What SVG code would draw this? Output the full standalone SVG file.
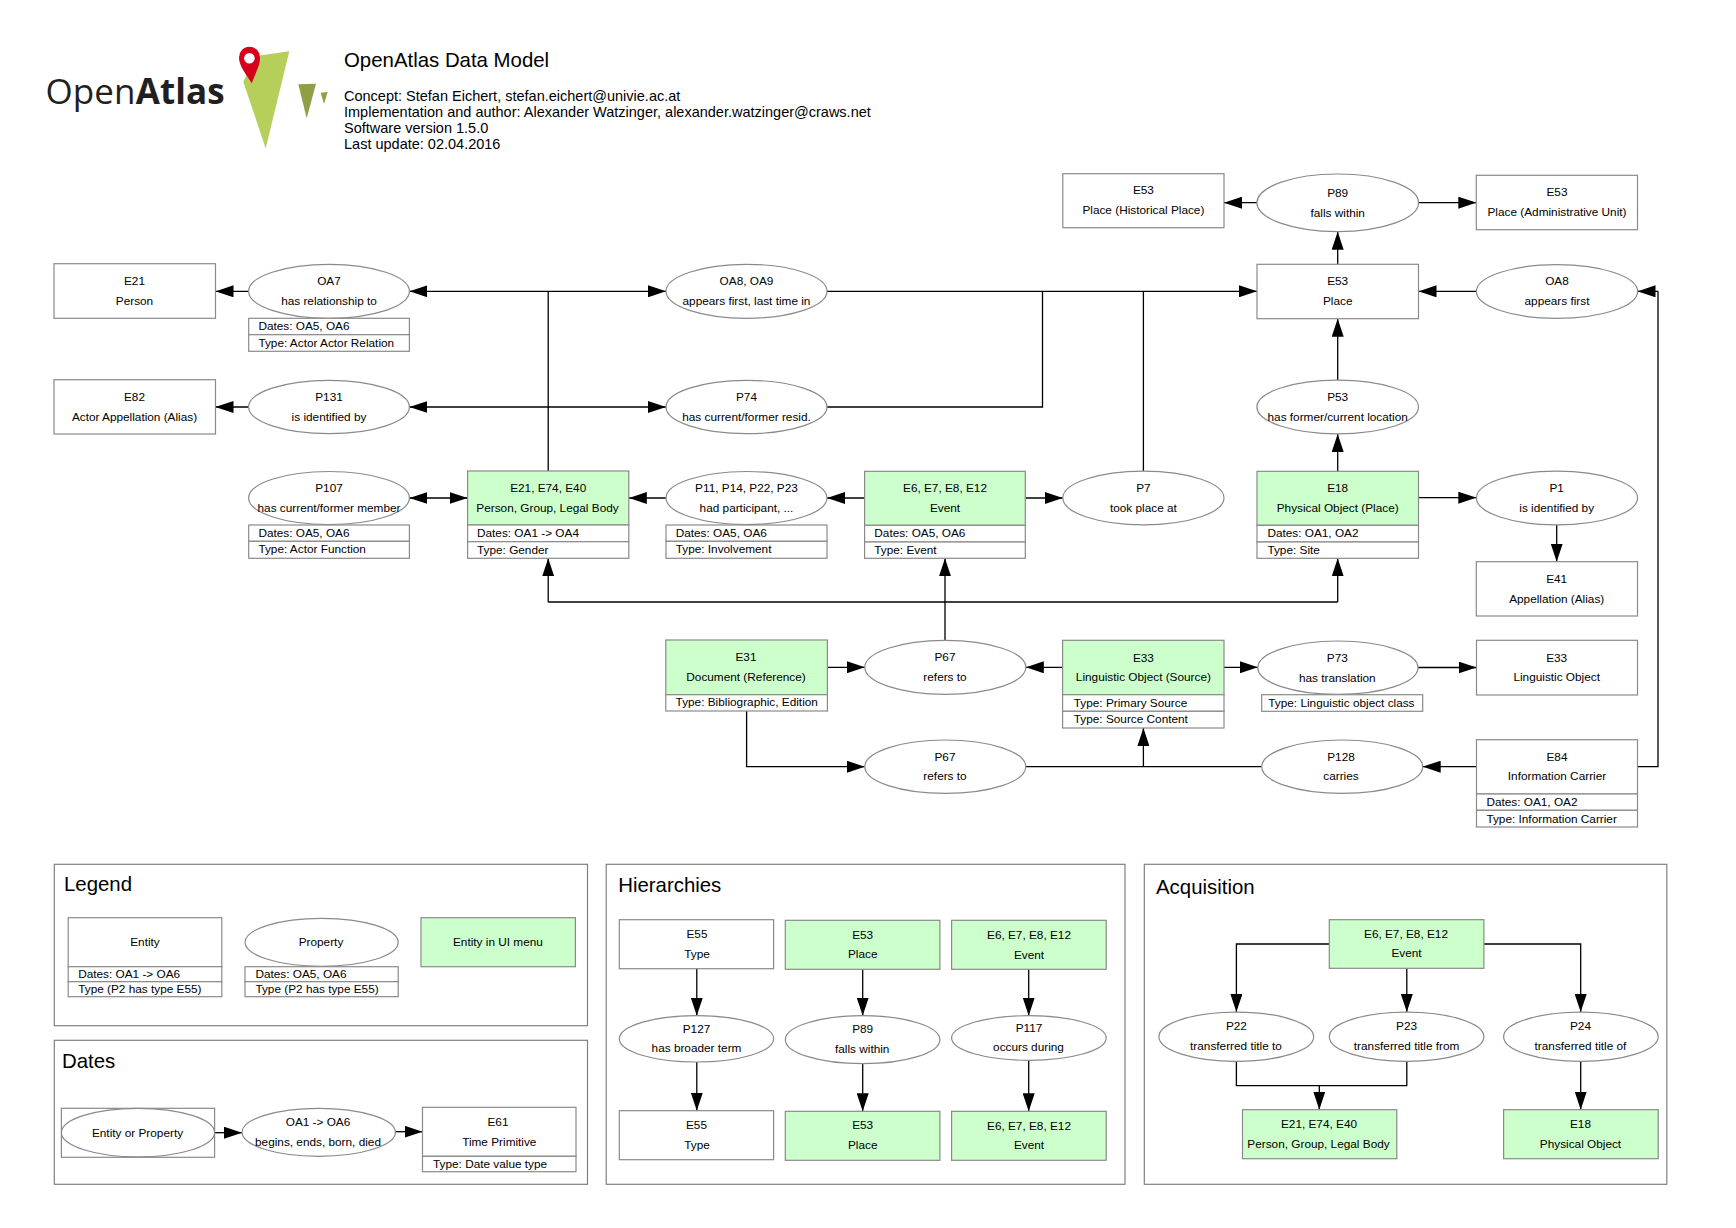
<svg xmlns="http://www.w3.org/2000/svg" width="1736" height="1228" viewBox="0 0 1736 1228">
<style>
text{font-family:"Liberation Sans",Arial,sans-serif;font-size:11.8px;fill:#000}
.m{text-anchor:middle}
.h{font-size:20.4px}
.i{font-size:14.5px}
rect,ellipse{stroke:#8a8a8a;stroke-width:1.2;fill:#fff}
.g{fill:#ccffcc}
.p{fill:none;stroke:#808080}
.c path{fill:none;stroke:#000;stroke-width:1.3;marker-end:url(#a)}
.c path.b{marker-start:url(#a)}
.c path.l{marker-end:none}
</style>
<defs>
<marker id="a" markerUnits="userSpaceOnUse" markerWidth="18" markerHeight="12" refX="18" refY="6" orient="auto-start-reverse"><path d="M0 0L18 6L0 12Z" fill="#000"/></marker>
</defs>
<rect width="1736" height="1228" style="fill:#fff;stroke:none"/>
<g id="logo">
<polygon points="289.3,51.3 256,56 243.3,81.7 265.7,148.5" fill="#b5cf5a"/>
<polygon points="298.3,84.3 316,83.7 306.7,118.3" fill="#8e9f45"/>
<polygon points="320.7,92.7 327.7,92 324,104" fill="#8e9f45"/>
<path d="M251.7 83.3C246 74 239 66 239 57.5A10.5 10.8 0 0 1 260 57.5C260 66 255 74 251.7 83.3Z" fill="#d6001c"/>
<circle cx="249.4" cy="58.2" r="5.3" fill="#fff"/>
<text x="45.5" y="104" style="font-family:'Open Sans',sans-serif;font-size:35px;fill:#231f20;letter-spacing:.1px">Open<tspan font-weight="700">Atlas</tspan></text>
</g>
<g id="title">
<text class="h" x="344" y="66.7">OpenAtlas Data Model</text>
<text class="i" x="344" y="100.5">Concept: Stefan Eichert, stefan.eichert@univie.ac.at</text>
<text class="i" x="344" y="116.5">Implementation and author: Alexander Watzinger, alexander.watzinger@craws.net</text>
<text class="i" x="344" y="132.7">Software version 1.5.0</text>
<text class="i" x="344" y="149">Last update: 02.04.2016</text>
</g>
<g id="panels">
<rect class="p" x="54.3" y="864.3" width="533.2" height="161.4"/>
<text class="h" x="64" y="891">Legend</text>
<rect class="p" x="54.3" y="1040.3" width="533.2" height="144"/>
<text class="h" x="62" y="1068.3">Dates</text>
<rect class="p" x="606.2" y="864.3" width="518.8" height="320"/>
<text class="h" x="618.2" y="891.7">Hierarchies</text>
<rect class="p" x="1144.3" y="864.3" width="522.5" height="320"/>
<text class="h" x="1156" y="893.7">Acquisition</text>
</g>
<g id="connectors" class="c">
<path d="M248.7 291.3H215.5"/>
<path class="b" d="M409.4 291.3H666"/>
<path class="l" d="M548.2 291.3V471"/>
<path d="M827 291.3H1257"/>
<path class="l" d="M827 407H1042.5V291.3"/>
<path class="l" d="M1143.4 471.3V291.3"/>
<path d="M248.7 407H215.5"/>
<path class="b" d="M409.4 407H666"/>
<path class="b" d="M409.4 498H467.6"/>
<path d="M666 498H628.8"/>
<path d="M864.6 498H827"/>
<path d="M1025.3 498H1062.8"/>
<path d="M1418.5 497.7H1476.3"/>
<path d="M1337.7 471.3V434"/>
<path d="M1337.7 380.3V318.7"/>
<path d="M1337.7 264.3V231.7"/>
<path d="M1257 202.7H1224"/>
<path d="M1418.5 202.7H1476.3"/>
<path d="M1476.3 291.3H1418.5"/>
<path d="M1556.7 525V561.7"/>
<path class="l" d="M1637.5 766.7H1658V291.3"/>
<path d="M1658 291.3H1637.5"/>
<path d="M548.2 602V558.3"/>
<path class="l" d="M548.2 602H1337.7"/>
<path d="M1337.7 602V558.3"/>
<path d="M945 640.3V558.3"/>
<path d="M827.4 667.3H864.8"/>
<path d="M1062.6 667.3H1025.8"/>
<path d="M1224 667.3H1257.8"/>
<path d="M1418 667.5H1476.5"/>
<path d="M746.6 711V766.7H864.8"/>
<path class="l" d="M1025.8 766.7H1261.7"/>
<path d="M1143.4 766.7V728"/>
<path d="M1476.5 766.7H1422.7"/>
<path d="M214.6 1132.7H242"/>
<path d="M395.4 1131.7H422.5"/>
<path d="M696.8 968.7V1015.7"/>
<path d="M696.8 1062V1110.7"/>
<path d="M862.7 969.3V1015.7"/>
<path d="M862.7 1063.7V1111.3"/>
<path d="M1028.7 969.3V1015.7"/>
<path d="M1028.7 1060.3V1111.3"/>
<path d="M1329.3 944H1236.4V1012"/>
<path d="M1406.8 968.3V1012"/>
<path d="M1483.9 944H1580.7V1012"/>
<path class="l" d="M1236.4 1061.3V1085.7H1406.8V1061.3"/>
<path d="M1319.3 1085.7V1109.7"/>
<path d="M1580.7 1061.3V1109.7"/>
</g>
<g id="e21"><rect x="54" y="263.7" width="161.5" height="54.6"/><text class="m" x="134.5" y="285">E21</text><text class="m" x="134.5" y="305">Person</text></g>
<g id="oa7"><ellipse cx="329" cy="291.3" rx="80.4" ry="27"/><text class="m" x="329" y="285">OA7</text><text class="m" x="329" y="305">has relationship to</text>
<rect x="248.7" y="318.3" width="160.7" height="16.4"/><rect x="248.7" y="334.7" width="160.7" height="16.6"/><text x="258.4" y="330">Dates: OA5, OA6</text><text x="258.4" y="347">Type: Actor Actor Relation</text></g>
<g id="oa8-9"><ellipse cx="746.5" cy="291.3" rx="80.5" ry="27"/><text class="m" x="746.5" y="285">OA8, OA9</text><text class="m" x="746.5" y="305">appears first, last time in</text></g>
<g id="e82"><rect x="54" y="379.7" width="161.5" height="54.3"/><text class="m" x="134.5" y="401">E82</text><text class="m" x="134.5" y="421">Actor Appellation (Alias)</text></g>
<g id="p131"><ellipse cx="329" cy="407" rx="80.4" ry="26.7"/><text class="m" x="329" y="401">P131</text><text class="m" x="329" y="421">is identified by</text></g>
<g id="p74"><ellipse cx="746.5" cy="407" rx="80.5" ry="26.7"/><text class="m" x="746.5" y="401">P74</text><text class="m" x="746.5" y="421">has current/former resid.</text></g>
<g id="p107"><ellipse cx="329" cy="498" rx="80.4" ry="26.5"/><text class="m" x="329" y="492">P107</text><text class="m" x="329" y="512">has current/former member</text>
<rect x="248.7" y="525" width="160.7" height="16.3"/><rect x="248.7" y="541.3" width="160.7" height="17"/><text x="258.4" y="536.7">Dates: OA5, OA6</text><text x="258.4" y="552.7">Type: Actor Function</text></g>
<g id="actor"><rect class="g" x="467.6" y="471" width="161.2" height="54"/><text class="m" x="548.2" y="492">E21, E74, E40</text><text class="m" x="547.5" y="512">Person, Group, Legal Body</text>
<rect x="467.6" y="525" width="161.2" height="16.7"/><rect x="467.6" y="541.7" width="161.2" height="16.6"/><text x="477" y="536.7">Dates: OA1 -&gt; OA4</text><text x="477" y="554">Type: Gender</text></g>
<g id="p11"><ellipse cx="746.5" cy="498" rx="80.5" ry="26.5"/><text class="m" x="746.5" y="492">P11, P14, P22, P23</text><text class="m" x="746.5" y="512">had participant, ...</text>
<rect x="666" y="525" width="161" height="16.3"/><rect x="666" y="541.3" width="161" height="17"/><text x="675.7" y="536.7">Dates: OA5, OA6</text><text x="675.7" y="552.7">Type: Involvement</text></g>
<g id="event"><rect class="g" x="864.6" y="471.3" width="160.7" height="54"/><text class="m" x="945" y="492">E6, E7, E8, E12</text><text class="m" x="945" y="512">Event</text>
<rect x="864.6" y="525.3" width="160.7" height="16.7"/><rect x="864.6" y="542" width="160.7" height="16.3"/><text x="874.3" y="537">Dates: OA5, OA6</text><text x="874.3" y="554.3">Type: Event</text></g>
<g id="p7"><ellipse cx="1143.4" cy="498" rx="80.6" ry="26.8"/><text class="m" x="1143.4" y="492">P7</text><text class="m" x="1143.4" y="512">took place at</text></g>
<g id="e18"><rect class="g" x="1257" y="471.3" width="161.5" height="54"/><text class="m" x="1337.7" y="492">E18</text><text class="m" x="1337.7" y="512">Physical Object (Place)</text>
<rect x="1257" y="525.3" width="161.5" height="16.7"/><rect x="1257" y="542" width="161.5" height="16.3"/><text x="1267.4" y="537">Dates: OA1, OA2</text><text x="1267.4" y="554.3">Type: Site</text></g>
<g id="p1"><ellipse cx="1557" cy="498" rx="80.6" ry="26.8"/><text class="m" x="1556.7" y="492">P1</text><text class="m" x="1556.7" y="512">is identified by</text></g>
<g id="e41"><rect x="1476.3" y="561.7" width="161.2" height="54.3"/><text class="m" x="1556.7" y="583">E41</text><text class="m" x="1556.7" y="603">Appellation (Alias)</text></g>
<g id="e53h"><rect x="1062.8" y="173.7" width="161.2" height="54"/><text class="m" x="1143.4" y="194">E53</text><text class="m" x="1143.4" y="214">Place (Historical Place)</text></g>
<g id="p89"><ellipse cx="1337.7" cy="202.8" rx="80.8" ry="28.8"/><text class="m" x="1337.7" y="197">P89</text><text class="m" x="1337.7" y="217">falls within</text></g>
<g id="e53a"><rect x="1476.3" y="175.3" width="161.2" height="54.4"/><text class="m" x="1557" y="196">E53</text><text class="m" x="1557" y="216">Place (Administrative Unit)</text></g>
<g id="e53"><rect x="1257" y="264.3" width="161.5" height="54.4"/><text class="m" x="1337.7" y="285">E53</text><text class="m" x="1337.7" y="305">Place</text></g>
<g id="oa8"><ellipse cx="1557" cy="291.5" rx="80.6" ry="26.8"/><text class="m" x="1557" y="285">OA8</text><text class="m" x="1557" y="305">appears first</text></g>
<g id="p53"><ellipse cx="1337.7" cy="407" rx="80.8" ry="26.8"/><text class="m" x="1337.7" y="401">P53</text><text class="m" x="1337.7" y="421">has former/current location</text></g>
<g id="e31"><rect class="g" x="665.8" y="640" width="161.6" height="54.7"/><text class="m" x="746" y="661">E31</text><text class="m" x="746" y="681">Document (Reference)</text>
<rect x="665.8" y="694.7" width="161.6" height="16.3"/><text x="675.6" y="706">Type: Bibliographic, Edition</text></g>
<g id="p67a"><ellipse cx="945.3" cy="667.3" rx="80.5" ry="27"/><text class="m" x="945" y="661">P67</text><text class="m" x="945" y="681">refers to</text></g>
<g id="e33s"><rect class="g" x="1062.6" y="640.3" width="161.4" height="54.4"/><text class="m" x="1143.4" y="662">E33</text><text class="m" x="1143.4" y="681">Linguistic Object (Source)</text>
<rect x="1062.6" y="694.7" width="161.4" height="16.6"/><rect x="1062.6" y="711.3" width="161.4" height="16.7"/><text x="1073.8" y="707">Type: Primary Source</text><text x="1073.8" y="723">Type: Source Content</text></g>
<g id="p73"><ellipse cx="1337.9" cy="667.7" rx="80.1" ry="26.7"/><text class="m" x="1337.3" y="662">P73</text><text class="m" x="1337.3" y="682">has translation</text>
<rect x="1261.7" y="694.7" width="161" height="16.6"/><text x="1268.3" y="707">Type: Linguistic object class</text></g>
<g id="e33"><rect x="1476.5" y="640.3" width="161" height="54.7"/><text class="m" x="1556.7" y="662">E33</text><text class="m" x="1556.7" y="681">Linguistic Object</text></g>
<g id="p67b"><ellipse cx="945.3" cy="766.7" rx="80.5" ry="26.7"/><text class="m" x="945" y="761">P67</text><text class="m" x="945" y="780">refers to</text></g>
<g id="p128"><ellipse cx="1342.2" cy="766.7" rx="80.5" ry="26.7"/><text class="m" x="1341" y="761">P128</text><text class="m" x="1341" y="780">carries</text></g>
<g id="e84"><rect x="1476.5" y="739.7" width="161" height="54.3"/><text class="m" x="1557" y="761">E84</text><text class="m" x="1557" y="780">Information Carrier</text>
<rect x="1476.5" y="794" width="161" height="16.3"/><rect x="1476.5" y="810.3" width="161" height="16.7"/><text x="1486.4" y="806">Dates: OA1, OA2</text><text x="1486.4" y="823">Type: Information Carrier</text></g>
<g id="leg-entity"><rect x="68.2" y="917.7" width="153.6" height="49"/><text class="m" x="145" y="946">Entity</text>
<rect x="68.2" y="966.7" width="153.6" height="15"/><rect x="68.2" y="981.7" width="153.6" height="15"/><text x="78.2" y="978">Dates: OA1 -&gt; OA6</text><text x="78.2" y="993">Type (P2 has type E55)</text></g>
<g id="leg-property"><ellipse cx="321.6" cy="942.3" rx="76.6" ry="24"/><text class="m" x="321" y="946">Property</text>
<rect x="245" y="966.7" width="153.2" height="15"/><rect x="245" y="981.7" width="153.2" height="15"/><text x="255.4" y="978">Dates: OA5, OA6</text><text x="255.4" y="993">Type (P2 has type E55)</text></g>
<g id="leg-ui"><rect class="g" x="421" y="917.7" width="154.4" height="49"/><text class="m" x="497.9" y="946">Entity in UI menu</text></g>
<g id="date-source"><rect x="61.4" y="1108.3" width="153.2" height="49"/><ellipse cx="138" cy="1132.6" rx="76.6" ry="24.3"/><text class="m" x="137.5" y="1137">Entity or Property</text></g>
<g id="date-oa"><ellipse cx="318.7" cy="1132.3" rx="76.7" ry="24"/><text class="m" x="318" y="1126">OA1 -&gt; OA6</text><text class="m" x="318" y="1146">begins, ends, born, died</text></g>
<g id="e61"><rect x="422.5" y="1107.3" width="153.5" height="49"/><text class="m" x="498" y="1126">E61</text><text class="m" x="499.3" y="1146">Time Primitive</text>
<rect x="422.5" y="1156.3" width="153.5" height="15.4"/><text x="433" y="1167.7">Type: Date value type</text></g>
<g id="h-e55a"><rect x="619.3" y="919.7" width="154.3" height="49"/><text class="m" x="697" y="938">E55</text><text class="m" x="697" y="957.5">Type</text></g>
<g id="h-p127"><ellipse cx="696.5" cy="1038.8" rx="77.2" ry="23.2"/><text class="m" x="696.5" y="1033">P127</text><text class="m" x="696.5" y="1052">has broader term</text></g>
<g id="h-e55b"><rect x="619.3" y="1110.7" width="154.3" height="49"/><text class="m" x="696.5" y="1129">E55</text><text class="m" x="697" y="1148.5">Type</text></g>
<g id="h-e53a"><rect class="g" x="785.3" y="920.3" width="154.6" height="49"/><text class="m" x="862.7" y="939">E53</text><text class="m" x="862.7" y="958.3">Place</text></g>
<g id="h-p89"><ellipse cx="862.6" cy="1039.7" rx="77.3" ry="24"/><text class="m" x="862.7" y="1033">P89</text><text class="m" x="862.2" y="1053">falls within</text></g>
<g id="h-e53b"><rect class="g" x="785.3" y="1111.3" width="154.6" height="49"/><text class="m" x="862.7" y="1129">E53</text><text class="m" x="862.7" y="1149">Place</text></g>
<g id="h-e6a"><rect class="g" x="951.6" y="920.3" width="154.6" height="49"/><text class="m" x="1029" y="939">E6, E7, E8, E12</text><text class="m" x="1029" y="959.3">Event</text></g>
<g id="h-p117"><ellipse cx="1028.9" cy="1038" rx="77.3" ry="22.3"/><text class="m" x="1029" y="1032">P117</text><text class="m" x="1028.5" y="1051">occurs during</text></g>
<g id="h-e6b"><rect class="g" x="951.6" y="1111.3" width="154.6" height="49"/><text class="m" x="1029" y="1130">E6, E7, E8, E12</text><text class="m" x="1029" y="1149">Event</text></g>
<g id="a-e6"><rect class="g" x="1329.3" y="919.7" width="154.6" height="48.6"/><text class="m" x="1406" y="938">E6, E7, E8, E12</text><text class="m" x="1406.5" y="956.7">Event</text></g>
<g id="a-p22"><ellipse cx="1236.3" cy="1036.7" rx="77.4" ry="24.6"/><text class="m" x="1236.4" y="1030">P22</text><text class="m" x="1236" y="1050">transferred title to</text></g>
<g id="a-p23"><ellipse cx="1406.6" cy="1036.7" rx="77.3" ry="24.6"/><text class="m" x="1406.6" y="1030">P23</text><text class="m" x="1406.6" y="1050">transferred title from</text></g>
<g id="a-p24"><ellipse cx="1580.9" cy="1036.7" rx="77.3" ry="24.6"/><text class="m" x="1580.5" y="1030">P24</text><text class="m" x="1580.5" y="1050">transferred title of</text></g>
<g id="a-actor"><rect class="g" x="1242.5" y="1109.7" width="154.3" height="49"/><text class="m" x="1319" y="1128">E21, E74, E40</text><text class="m" x="1318.5" y="1148">Person, Group, Legal Body</text></g>
<g id="a-e18"><rect class="g" x="1503.6" y="1109.7" width="154.6" height="49"/><text class="m" x="1580.5" y="1128">E18</text><text class="m" x="1580.5" y="1148">Physical Object</text></g>
</svg>
